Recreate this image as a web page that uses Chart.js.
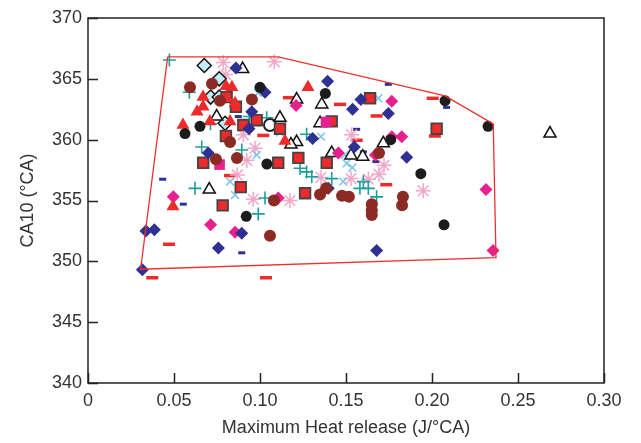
<!DOCTYPE html>
<html>
<head>
<meta charset="utf-8">
<script src="https://cdn.jsdelivr.net/npm/chart.js@4"></script>
<style>
  html, body { margin: 0; padding: 0; background: #fff; }
  #zone { width: 641px; height: 443px; }
</style>
</head>
<body>
<div id="zone"><canvas id="graphique-ca10"></canvas></div>
<script>
// axes
const graduationsX = [0, 0.05, 0.10, 0.15, 0.20, 0.25, 0.30];
const etiquettesX = ['0', '0.05', '0.10', '0.15', '0.20', '0.25', '0.30'];
const graduationsY = [340, 345, 350, 355, 360, 365, 370];

// enveloppe (polygone rouge)
const enveloppeX = [0.0463, 0.1106, 0.2076, 0.2356, 0.2372, 0.0306, 0.0463];
const enveloppeY = [366.8, 366.8, 363.6, 361.3, 350.3, 349.35, 366.8];

// séries
const noirX = [0.0564, 0.0651, 0.100, 0.104, 0.138, 0.092, 0.2076, 0.2326, 0.1935, 0.207, 0.176];
const noirY = [360.5, 361.1, 364.3, 358.0, 363.8, 353.7, 363.2, 361.1, 357.2, 353.0, 360.0];

const marronX = [0.0593, 0.0721, 0.0767, 0.0953, 0.0826, 0.0744, 0.0866, 0.1058, 0.1081, 0.1349, 0.1384, 0.1477, 0.1517, 0.165, 0.165, 0.165, 0.1692, 0.1831, 0.1826];
const marronY = [364.3, 364.6, 363.2, 363.3, 359.8, 358.4, 358.5, 352.1, 355.0, 355.5, 356.0, 355.4, 355.3, 354.7, 354.2, 353.8, 358.9, 355.3, 354.6];

const triRougeX = [0.0802, 0.0669, 0.0669, 0.0634, 0.0552, 0.0837, 0.0808, 0.0855, 0.0826, 0.0709, 0.1279, 0.1145, 0.0494];
const triRougeY = [364.4, 363.5, 362.7, 362.3, 361.2, 364.3, 363.4, 363.0, 361.5, 361.5, 364.3, 359.9, 354.5];

const carreX = [0.0806, 0.0860, 0.0903, 0.0981, 0.0802, 0.0670, 0.0888, 0.0783, 0.1640, 0.1417, 0.1116, 0.1106, 0.1223, 0.1388, 0.1262, 0.2027];
const carreY = [363.5, 362.7, 361.2, 361.6, 360.3, 358.1, 356.1, 354.6, 363.4, 361.5, 360.9, 358.1, 358.5, 358.1, 355.6, 360.9];

const triVideX = [0.0899, 0.0748, 0.1213, 0.1359, 0.1116, 0.1349, 0.1213, 0.118, 0.1717, 0.0705, 0.1417, 0.1529, 0.1597, 0.2686];
const triVideY = [365.8, 361.9, 363.3, 362.9, 361.8, 361.35, 359.8, 359.6, 359.7, 355.9, 358.9, 358.7, 358.6, 360.5];

const losVideX = [0.0676, 0.0763, 0.0713, 0.0763, 0.0797];
const losVideY = [366.1, 365.0, 363.5, 363.5, 361.35];

const losBleuX = [0.0860, 0.0952, 0.0936, 0.0699, 0.1029, 0.0337, 0.0386, 0.0894, 0.0758, 0.0316, 0.1393, 0.1538, 0.1587, 0.1746, 0.1306, 0.1548, 0.1853, 0.1678, 0.1397];
const losBleuY = [365.9, 362.3, 360.9, 358.9, 363.9, 352.5, 352.6, 352.3, 351.1, 349.3, 364.8, 362.5, 363.3, 362.15, 360.1, 359.4, 358.55, 350.9, 356.0];

const losRoseX = [0.0496, 0.0713, 0.0855, 0.1766, 0.1766, 0.1824, 0.1456, 0.1671, 0.2314, 0.1106, 0.2355, 0.121];
const losRoseY = [355.3, 353.0, 352.4, 363.15, 360.25, 360.25, 358.9, 358.75, 355.9, 355.2, 350.9, 362.8];

const carreRoseX = [0.0765, 0.1384];
const carreRoseY = [357.95, 361.45];

const plusX = [0.0473, 0.0589, 0.0712, 0.0661, 0.0894, 0.1039, 0.0938, 0.0622, 0.1029, 0.0990, 0.1271, 0.1233, 0.1271, 0.1301, 0.1417, 0.1601, 0.1581, 0.1630, 0.1678];
const plusY = [366.55, 363.9, 361.3, 359.4, 359.15, 361.8, 361.9, 356.0, 355.2, 353.9, 360.45, 357.65, 357.35, 356.95, 356.8, 356.55, 356.0, 356.0, 355.3];

const croixX = [0.1116, 0.1355, 0.1688, 0.0981, 0.0826, 0.0855, 0.1494, 0.1504, 0.1537, 0.1484, 0.0988, 0.1058];
const croixY = [360.6, 360.25, 363.4, 358.75, 356.55, 355.45, 358.75, 358.05, 357.7, 356.55, 363.85, 361.2];

const etoileX = [0.0787, 0.0800, 0.0961, 0.0903, 0.0971, 0.1083, 0.1533, 0.0923, 0.0868, 0.0961, 0.1355, 0.1174, 0.1529, 0.1630, 0.1692, 0.1721, 0.1949];
const etoileY = [366.35, 365.35, 361.5, 360.4, 359.3, 366.4, 360.4, 358.3, 357.1, 355.1, 356.9, 355.0, 356.8, 356.75, 357.15, 357.9, 355.8];

const tiretRougeX = [0.1019, 0.1168, 0.1465, 0.1605, 0.1678, 0.1562, 0.2004, 0.2017, 0.0826, 0.0471, 0.0374, 0.1035, 0.1734];
const tiretRougeY = [360.35, 363.45, 362.9, 363.1, 361.95, 359.95, 363.4, 360.3, 357.05, 351.4, 348.65, 348.65, 356.3];

const tiretBleuX = [0.0434, 0.0554, 0.0894, 0.1746, 0.1562, 0.2085, 0.0874, 0.1601, 0.1674];
const tiretBleuY = [356.75, 354.7, 350.7, 364.55, 360.85, 362.65, 361.9, 359.0, 358.2];

const anneauX = [0.1058];
const anneauY = [361.2];

const points = (xs, ys) => xs.map((v, i) => ({ x: v, y: ys[i] }));

function serie(xs, ys, style, rayon, fond, bord, epaisseur) {
    return {
        data: points(xs, ys),
        pointStyle: style,
        pointRadius: rayon,
        backgroundColor: fond,
        borderColor: bord,
        borderWidth: epaisseur,
        showLine: false
    };
}

const cadre = {
    id: 'cadre',
    afterDraw(chart) {
        const { ctx, chartArea: a, scales } = chart;
        ctx.save();
        ctx.strokeStyle = '#222';
        ctx.lineWidth = 1.5;
        ctx.strokeRect(a.left, a.top, a.right - a.left, a.bottom - a.top);
        ctx.beginPath();
        graduationsY.forEach(v => {
            const py = Math.round(scales.y.getPixelForValue(v)) + 0.5;
            ctx.moveTo(a.left, py);
            ctx.lineTo(a.left + 10, py);
        });
        graduationsX.forEach(v => {
            const px = Math.round(scales.x.getPixelForValue(v)) + 0.5;
            ctx.moveTo(px, a.bottom);
            ctx.lineTo(px, a.bottom - 10);
        });
        ctx.stroke();
        ctx.restore();
    }
};

const graphique = document.getElementById('graphique-ca10');

new Chart(graphique, {
    type: 'scatter',
    data: {
        datasets: [
            {
                data: points(enveloppeX, enveloppeY),
                showLine: true,
                borderColor: '#ee3030',
                borderWidth: 1.3,
                pointRadius: 0,
                fill: false,
                tension: 0
            },
            serie(marronX, marronY, 'circle', 6, '#8c2a24', '#8c2a24', 0),
            serie(noirX, noirY, 'circle', 5.5, '#1c1c1c', '#1c1c1c', 0),
            serie(triRougeX, triRougeY, 'triangle', 7.5, '#ee2a2a', '#ee2a2a', 0),
            serie(losBleuX, losBleuY, 'rectRot', 6.5, '#2e3192', '#2e3192', 0),
            serie(losRoseX, losRoseY, 'rectRot', 6.5, '#e6208c', '#e6208c', 0),
            serie(carreRoseX, carreRoseY, 'rect', 7.5, '#e6208c', '#e6208c', 0),
            serie(carreX, carreY, 'rect', 7.5, '#ee2a2a', '#444444', 1.8),
            serie(triVideX, triVideY, 'triangle', 7, '#ffffff', '#111111', 1.5),
            serie(losVideX, losVideY, 'rectRot', 7, '#c4ecf6', '#111111', 1.5),
            serie(anneauX, anneauY, 'circle', 6, '#ffffff', '#222222', 2),
            serie(plusX, plusY, 'cross', 6.5, '#1b9e9e', '#1b9e9e', 1.6),
            serie(croixX, croixY, 'crossRot', 5.5, '#80c4ee', '#80c4ee', 1.6),
            serie(etoileX, etoileY, 'star', 7.5, '#f4a6c8', '#f4a6c8', 1.5),
            serie(tiretRougeX, tiretRougeY, 'line', 6, '#ee2a2a', '#ee2a2a', 3.5),
            serie(tiretBleuX, tiretBleuY, 'line', 3.5, '#2e3192', '#2e3192', 3)
        ]
    },
    options: {
        responsive: true,
        maintainAspectRatio: false,
        animation: false,
        layout: {
            padding: { left: 0, right: 37, top: 18, bottom: 0 }
        },
        plugins: {
            legend: { display: false },
            tooltip: { enabled: false }
        },
        scales: {
            x: {
                type: 'linear',
                min: 0,
                max: 0.30,
                afterFit: s => { s.height = 60; },
                afterBuildTicks: s => { s.ticks = graduationsX.map(v => ({ value: v })); },
                grid: { display: false, drawTicks: false },
                border: { display: false },
                ticks: {
                    padding: 7,
                    color: '#333',
                    font: { family: '"Liberation Sans", Arial, sans-serif', size: 18 },
                    callback: (v, i) => etiquettesX[i]
                },
                title: {
                    display: true,
                    text: 'Maximum Heat release (J/°CA)',
                    color: '#333',
                    padding: { top: 0, bottom: 4 },
                    font: { family: '"Liberation Sans", Arial, sans-serif', size: 18 }
                }
            },
            y: {
                type: 'linear',
                min: 340,
                max: 370,
                afterFit: s => { s.width = 88; },
                afterBuildTicks: s => { s.ticks = graduationsY.map(v => ({ value: v })); },
                grid: { display: false, drawTicks: false },
                border: { display: false },
                ticks: {
                    padding: 6,
                    color: '#333',
                    font: { family: '"Liberation Sans", Arial, sans-serif', size: 18 }
                },
                title: {
                    display: true,
                    text: 'CA10 (°CA)',
                    color: '#333',
                    padding: { top: 17, bottom: 0 },
                    font: { family: '"Liberation Sans", Arial, sans-serif', size: 18 }
                }
            }
        }
    },
    plugins: [cadre]
});
</script>
</body>
</html>
